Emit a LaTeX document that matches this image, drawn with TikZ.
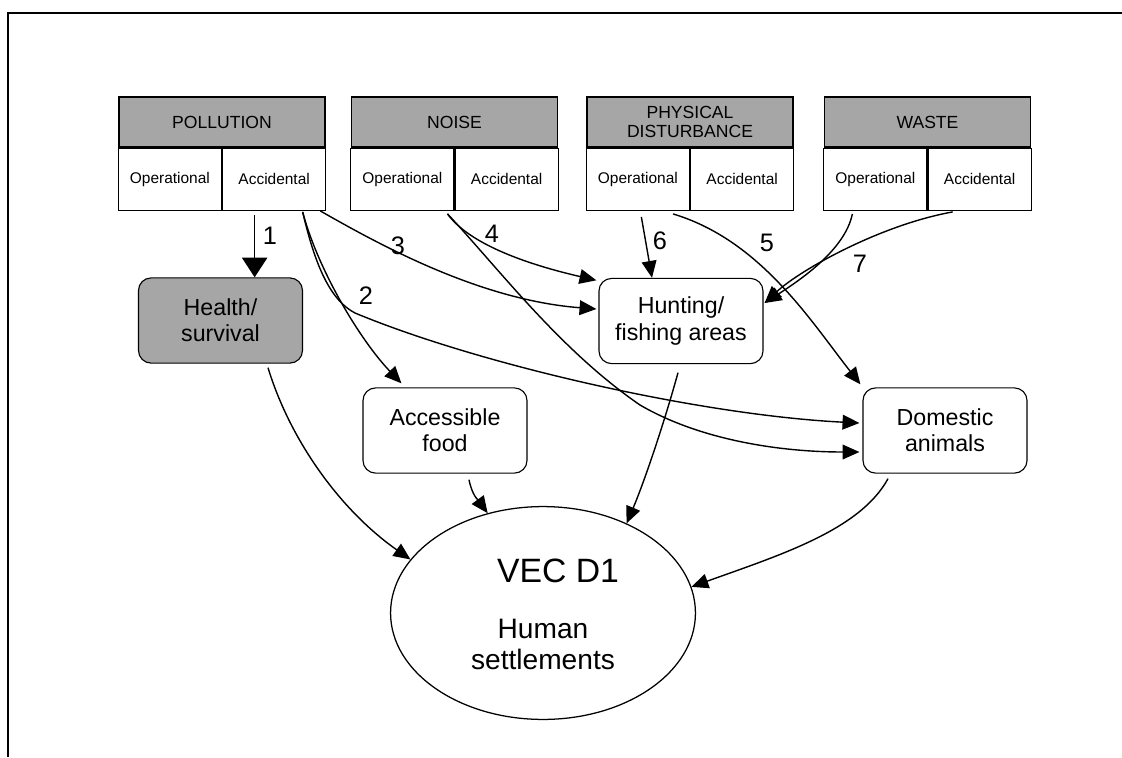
\documentclass[tikz,border=0pt]{standalone}
\usepackage{fontspec}
\setmainfont{Liberation Sans}
\usetikzlibrary{calc,arrows.meta,shapes.geometric}
\tikzset{
  hdr/.style={draw,fill=black!35,line width=0.9pt,minimum width=5.15cm,minimum height=1.25cm,inner sep=0pt,align=center,font=\fontsize{12.5}{14}\selectfont},
  cell/.style={draw,line width=0.9pt,minimum width=2.575cm,minimum height=1.55cm,inner sep=0pt,font=\fontsize{11}{12}\selectfont},
  vecbox/.style={draw,line width=0.8pt,rounded corners=9pt,minimum width=4.1cm,minimum height=2.13cm,inner sep=0pt,align=center,font=\fontsize{16.5}{18.5}\selectfont},
  hand/.style={font=\fontsize{18}{18}\selectfont},
  arr/.style={line width=1pt,-{Triangle[length=12pt,width=10.5pt]}},
}

\begin{document}
\begin{tikzpicture}[x=0.025cm,y=-0.025cm]
  \useasboundingbox (0,0) rectangle (1122,757);
  \draw[line width=1.6pt] (1122,13) -- (8,13) -- (8,757);
  \foreach \nm/\cx/\txt in {pol/222/POLLUTION,noi/454.5/NOISE,phy/690/{PHYSICAL\\DISTURBANCE},was/927.5/WASTE}{
    \node[hdr] (\nm) at (\cx,122) {\txt};
    \node[cell,anchor=north east] (\nm O) at (\nm.south) {Operational};
    \node[cell,anchor=north west] (\nm A) at (\nm.south) {Accidental};
  }
  \node[vecbox,fill=black!35] (health) at (220.5,320.5) {Health/\\survival};
  \node[vecbox] (food) at (445,430.5) {Accessible\\food};
  \node[vecbox] (hunt) at (681,321) {Hunting/\\fishing areas};
  \node[vecbox] (dom) at (945,430.5) {Domestic\\animals};
  \node[draw,ellipse,line width=0.9pt,minimum width=7.62cm,minimum height=5.32cm,inner sep=0pt] (ell) at (543,613) {};
  \node[font=\fontsize{24}{26}\selectfont] (vec) at (558,571) {VEC D1};
  \node[align=center,font=\fontsize{20}{22}\selectfont] (hum) at (543,644) {Human\\settlements};

  \draw[arr,-{Triangle[length=14pt,width=18pt]}] ($(polA.south)+(-19.5,4)$) coordinate (a1) -- (a1 |- health.north);
  \draw[arr] ($(polA.south)+(28.5,1)$) .. controls (318,270) and (360,340) .. ($(food.north west)+(39,-4)$);
  \draw[arr] ($(polA.south)+(28.5,1)$) .. controls (315,265) and (330,300) .. (355,313)
        .. controls (480,365) and (700,415) .. ($(dom.west)+(-3,-7.5)$);
  \draw[arr] ($(polA.south east)+(-6,0)$) .. controls (380,245) and (480,300) .. ($(hunt.west)+(-2,-12)$);
  \draw[arr] ($(noiO.south east)+(-7,3)$) .. controls (470,245) and (530,265) .. ($(hunt.north west)+(-2,2.5)$);
  \draw[arr] ($(noiO.south east)+(-7,3)$) .. controls (500,270) and (560,350) .. (640,405)
        .. controls (700,440) and (780,452) .. ($(dom.west)+(-3,21.5)$);
  \draw[arr] ($(phyO.south east)+(-17,3)$) .. controls (760,240) and (810,320) .. ($(dom.north west)+(-2,-3)$);
  \draw[arr] ($(phyO.south)+(3.5,6)$) -- ($(hunt.north)+(-29,0)$);
  \draw[arr] ($(wasA.south)+(-27,1)$) .. controls (880,225) and (800,270) .. ($(hunt.east)+(1,-18)$);
  \draw[arr] ($(wasO.south)+(-23,3)$) .. controls (845,250) and (800,280) .. ($(hunt.east)+(1,-18)$);
  \draw[arr] ($(health.south)+(47.5,4)$) .. controls (290,440) and (340,510) .. (ell.158);
  \draw[arr] ($(food.south)+(24,6)$) .. controls (472,495) and (478,500) .. (ell.119);
  \draw[arr] ($(hunt.south)+(-3,8.5)$) .. controls (665,420) and (645,480) .. (ell.47);
  \draw[arr] ($(dom.south)+(-57,5)$) .. controls (860,530) and (780,555) .. (ell.10);

  \node[hand] (n1) at (270,236) {1};
  \node[hand] (n2) at (366,296) {2};
  \node[hand] (n3) at (398,246) {3};
  \node[hand] (n4) at (492,234) {4};
  \node[hand] (n5) at (767,243) {5};
  \node[hand] (n6) at (660,241) {6};
  \node[hand] (n7) at (860,264) {7};
\end{tikzpicture}
\end{document}
